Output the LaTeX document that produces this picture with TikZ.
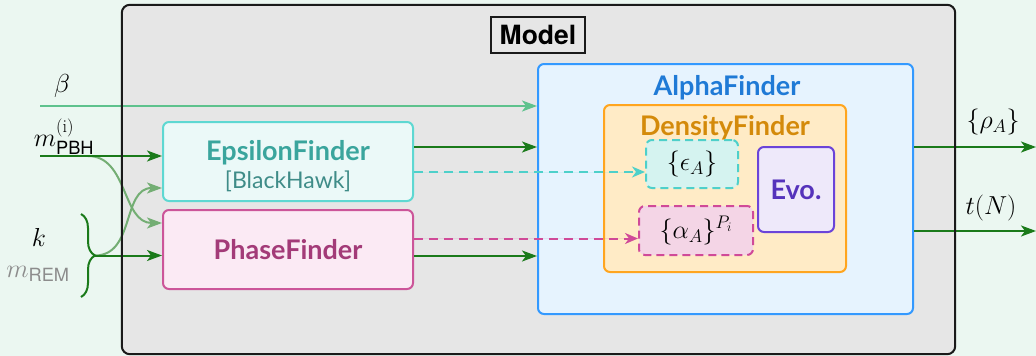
\RequirePackage{fix-cm}
\documentclass[tikz,border=0pt]{standalone}
\usepackage{amsmath}
\usepackage{fontspec}
\newfontfamily\latofont{Lato}
\newfontfamily\herosfont{TeX Gyre Heros}
\usetikzlibrary{arrows.meta,decorations.pathreplacing,calc}

\definecolor{bgmint}{HTML}{EBF7F1}
\definecolor{modelgray}{HTML}{E6E6E6}
\definecolor{modelline}{HTML}{1A1A1A}
\definecolor{epsline}{HTML}{5ED8D2}
\definecolor{epsfill}{HTML}{EBF9F8}
\definecolor{epstext}{HTML}{3AA59D}
\definecolor{bhtext}{HTML}{3F8C88}
\definecolor{phline}{HTML}{CC5599}
\definecolor{phfill}{HTML}{FBEAF4}
\definecolor{phtext}{HTML}{A33B78}
\definecolor{alline}{HTML}{3399FF}
\definecolor{alfill}{HTML}{E6F3FE}
\definecolor{altext}{HTML}{1F7AD6}
\definecolor{dnline}{HTML}{FFA51F}
\definecolor{dnfill}{HTML}{FFEBC6}
\definecolor{dntext}{HTML}{D48A0A}
\definecolor{epsdash}{HTML}{4ED0CA}
\definecolor{epsdfill}{HTML}{D5F3F0}
\definecolor{aldash}{HTML}{D04A98}
\definecolor{aldfill}{HTML}{F4D5E6}
\definecolor{evoline}{HTML}{6B44D9}
\definecolor{evofill}{HTML}{EEE9FA}
\definecolor{evotext}{HTML}{5533BB}
\definecolor{dgreen}{HTML}{1A7A1A}
\definecolor{betagreen}{HTML}{5EC28D}
\definecolor{curvegreen}{HTML}{74AE74}
\definecolor{remgray}{HTML}{8C8C8C}

\begin{document}
\begin{tikzpicture}[x=1pt,y=-1pt,
  font=\fontsize{26}{30}\selectfont,
  panel/.style={draw, rounded corners=6pt, line width=2pt, inner sep=0pt},
  dashbox/.style={draw, rounded corners=6pt, line width=2pt, inner sep=0pt,
                  dash pattern=on 8pt off 5pt},
  title/.style={font=\latofont\fontsize{27}{30}\selectfont\bfseries},
  flow/.style={draw=dgreen, line width=2pt, -{Stealth[length=15pt,width=11pt,inset=4pt]}},
  fadeflow/.style={draw=curvegreen, line width=2pt, -{Stealth[length=15pt,width=11pt,inset=4pt]}},
  dashflow/.style={line width=2pt, dash pattern=on 9pt off 6pt,
                   -{Stealth[length=13pt,width=11pt,inset=4pt]}},
  lab/.style={inner sep=0pt}]

\useasboundingbox (0,0) rectangle (1036,356);
\fill[bgmint] (0,0) rectangle (1036,356);

% outer model frame (filled now, outlined at the end)
\node[fill=modelgray, rounded corners=8pt, inner sep=0pt,
      minimum width=833pt, minimum height=349pt] (model) at (538.5,179.5) {};
\node[draw=modelline, line width=1.3pt, inner sep=0pt,
      minimum width=94pt, minimum height=36pt,
      font=\herosfont\fontsize{26.5}{30}\selectfont\bfseries] (mlabel) at (538,35) {Model};

% main blocks
\node[panel, draw=alline, fill=alfill, minimum width=375pt, minimum height=250pt] (alpha) at (725.5,189) {};
\node[title, text=altext, lab] (alphalab) at (727,88) {AlphaFinder};
\node[panel, draw=dnline, fill=dnfill, minimum width=242pt, minimum height=167pt] (dens) at (725,188.5) {};
\node[title, text=dntext, lab] (denslab) at (725,128) {DensityFinder};
\node[dashbox, draw=epsdash, fill=epsdfill, minimum width=92pt, minimum height=48pt] (epsA) at (692,164) {$\{\epsilon_A\}$};
\node[dashbox, draw=aldash, fill=aldfill, minimum width=114pt, minimum height=49pt] (alA) at (696,230.5) {$\{\alpha_A\}^{P_i}$};
\node[panel, draw=evoline, fill=evofill, minimum width=76pt, minimum height=85pt,
      title, text=evotext] (evo) at (796,189.5) {Evo.};

\node[panel, draw=epsline, fill=epsfill, minimum width=250pt, minimum height=79pt] (epsf) at (288,161.5) {};
\node[title, text=epstext, lab] (epsflab) at (288,153) {EpsilonFinder};
\node[lab, text=bhtext, font=\latofont\fontsize{23}{26}\selectfont] (bh) at (288,181) {[BlackHawk]};
\node[panel, draw=phline, fill=phfill, minimum width=250pt, minimum height=79pt,
      title, text=phtext] (phase) at (288,249.5) {PhaseFinder};

% inputs
\node[lab] (betalab) at (62,86) {$\beta$};
\node[lab] (mlab) at (64,137) {$m_{\text{\herosfont PBH}}^{(\mathrm{i})}$};
\node[lab] (klab) at (39,237) {$k$};
\node[lab, text=remgray] (remlab) at (38,274) {$m_{\text{\herosfont REM}}$};

\coordinate (bin) at (40,106);
\coordinate (min) at (40,156);
\coordinate (msplit) at (88,156);
\coordinate (btop) at (81,214);
\coordinate (bbot) at (81,297);
\coordinate (btip) at (95,255.5);
\coordinate (toph) at ($(phase.west)+(0,-26.5)$);
\coordinate (toeps) at ($(epsf.west)+(0,26.5)$);

\draw[draw=betagreen, line width=2pt, -{Stealth[length=15pt,width=11pt,inset=4pt]}]
  (bin) -- (bin -| alpha.west);
\draw[fadeflow] (msplit) .. controls +(40,0) and +(-40,0) .. (toph);
\draw[fadeflow] (btip) .. controls +(40,0) and +(-40,0) .. (toeps);
\draw[flow] (min) -- (min -| epsf.west);
\draw[draw=dgreen, line width=2pt, decorate, decoration={brace, amplitude=14pt}] (btop) -- (bbot);
\draw[flow] (btip) -- (btip -| phase.west);

% block to block
\coordinate (eout) at ($(epsf.east)+(0,-14.5)$);
\coordinate (pout) at ($(phase.east)+(0,6.5)$);
\coordinate (edash) at ($(epsf.east)+(0,10.5)$);
\coordinate (pdash) at ($(phase.east)+(0,-11)$);
\draw[flow] (eout) -- (eout -| alpha.west);
\draw[flow] (pout) -- (pout -| alpha.west);
\draw[dashflow, draw=epsdash, fill=epsdash] (edash) -- (edash -| epsA.west);
\draw[dashflow, draw=aldash, fill=aldash] (pdash) -- (pdash -| alA.west);

% outputs
\coordinate (rhoout) at (1036,147);
\coordinate (tout) at (1036,231);
\draw[flow] (rhoout -| alpha.east) -- (rhoout);
\draw[flow] (tout -| alpha.east) -- (tout);
\node[lab] (rholab) at (993,122) {$\{\rho_A\}$};
\node[lab] (tlab) at (991,208) {$t(N)$};

% frame outline on top
\draw[draw=modelline, line width=2pt, rounded corners=8pt]
  (model.north west) rectangle (model.south east);
\end{tikzpicture}
\end{document}
